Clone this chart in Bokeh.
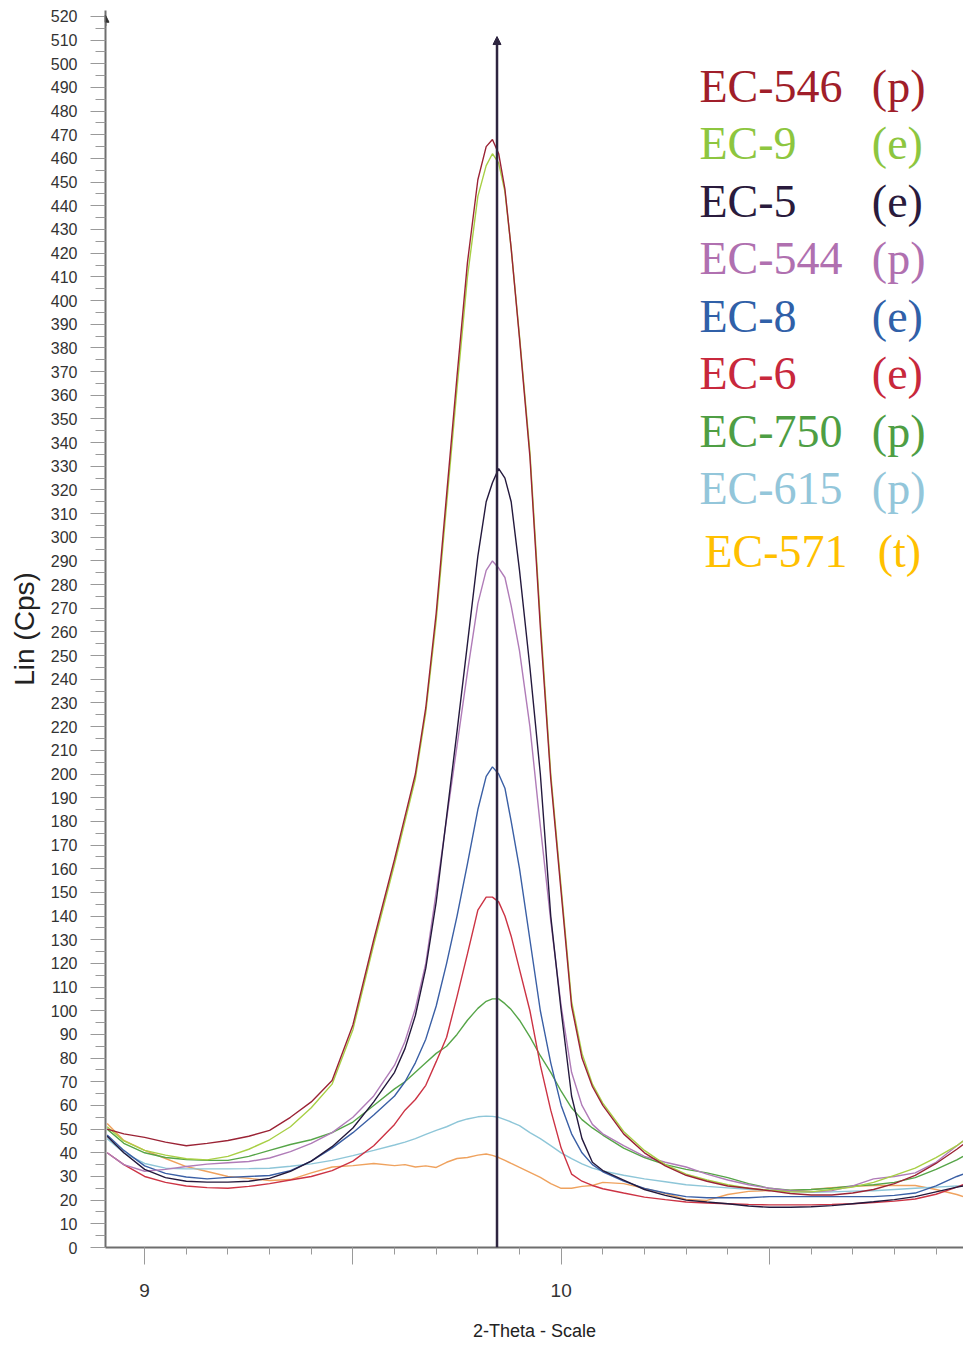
from bokeh.plotting import figure
from bokeh.models import FixedTicker, Range1d, Arrow, NormalHead, ColumnDataSource
from bokeh.core.properties import value
from bokeh.embed import file_html
from bokeh.resources import INLINE

# ---------------- data ----------------
two_theta = [8.91, 8.95, 9.00, 9.05, 9.10, 9.15, 9.20, 9.25, 9.30, 9.35, 9.40, 9.45, 9.50, 9.55, 9.60,
             9.625, 9.65, 9.675, 9.70, 9.725, 9.75, 9.775, 9.80, 9.82, 9.835, 9.85, 9.865, 9.88, 9.90,
             9.925, 9.95, 9.975, 10.00, 10.025, 10.05, 10.075, 10.10, 10.15, 10.20, 10.25, 10.30, 10.35,
             10.40, 10.45, 10.50, 10.55, 10.60, 10.65, 10.70, 10.75, 10.80, 10.85, 10.90, 10.95, 10.965]

ec546 = [50, 48, 46.5, 44.5, 43, 44, 45.2, 47, 49.5, 55, 61.5, 70.5, 94, 130, 164, 182, 200, 228, 268, 318,
         368, 416, 451, 465, 468, 462, 447, 422, 384, 334, 262, 198, 150, 102, 80, 68, 60, 48, 40, 34.5,
         30.5, 28, 26, 25, 24, 22.8, 22.2, 22.2, 23, 24.5, 27, 30.5, 35.5, 41.5, 43.5]
ec9 = [51, 45, 41, 39, 37.5, 37, 38.5, 41.5, 45.5, 51, 59, 69, 92, 128, 162, 180, 198, 226, 265, 314,
       363, 410, 444, 457, 462, 458, 446, 422, 385, 336, 265, 200, 152, 104, 82, 69, 61, 49, 41, 35,
       31, 28.5, 26.5, 25, 24.2, 23.5, 23.5, 24.5, 25.5, 27.5, 30.5, 33.5, 38, 43, 45]
ec5 = [47, 40, 33, 29.5, 28, 27.6, 27.6, 28, 29.2, 32.2, 36.5, 42.6, 50.5, 61.5, 74, 84, 98, 118, 146, 182,
       218, 255, 292, 315, 323, 329, 325, 315, 286, 245, 200, 140, 100, 64, 46, 36, 32.5, 28.5, 24.5, 22,
       20, 19.2, 18.5, 17.5, 17, 17, 17.2, 17.7, 18.5, 19.3, 20.2, 21.5, 23.5, 25.5, 26]
ec544 = [40, 35, 32.2, 33, 34.2, 35.2, 35.8, 36.3, 37.8, 40.5, 44, 48.5, 55, 64, 77, 87, 101, 120, 150, 181,
         212, 243, 272, 286, 290, 287, 283, 271, 252, 220, 178, 138, 102, 74, 60, 52, 48, 43, 38.5, 36,
         34, 31, 28.5, 26.5, 25, 24, 23.5, 24, 26, 29, 30, 31.5, 36, 43, 45]
ec8 = [47.5, 41, 34.5, 31.3, 29.8, 29, 29.6, 30, 30.4, 32.5, 36.5, 42, 48.5, 56, 64, 70, 78, 88, 102, 120,
       140, 162, 185, 199, 203, 200, 194, 180, 160, 130, 100, 78, 60, 48, 40, 35, 32, 28, 25, 23,
       21.5, 21, 21, 21, 21.5, 21.5, 21.5, 21.5, 21.5, 21.5, 22, 23, 26, 30, 31]
ec6 = [40, 35, 30, 27.5, 26, 25.3, 25, 25.8, 27, 28.5, 30, 32.5, 36.5, 43, 52, 58, 62.5, 68.5, 78.5, 88.8,
       106, 124, 142.5, 148, 148, 146, 140, 131.5, 117.5, 100, 77, 58, 42, 31, 28, 26.2, 24.8, 23, 21.3, 20.2,
       19.2, 18.8, 18.5, 18.2, 18, 18, 18, 18.2, 18.5, 19, 19.6, 20.5, 22.5, 25.5, 26.5]
ec750 = [50, 44, 40, 38, 37.2, 36.8, 36.8, 38.5, 41, 43.5, 45.5, 48.5, 53, 60, 67, 70, 74, 78, 82, 85,
         90, 96, 101, 104, 105, 105, 103, 100.5, 96, 89, 81, 74, 66, 59, 54, 50.5, 47.5, 42, 38, 35,
         33, 31.5, 29.5, 27, 25, 24.2, 24.5, 25, 26, 26.5, 27.5, 29.5, 33, 37, 38.5]
ec615 = [46, 40, 35.5, 33.5, 33.2, 33.2, 33.2, 33.3, 33.5, 34.3, 35.3, 36.8, 38.8, 41, 43.3, 44.5, 46, 47.8, 49.5, 51,
         53, 54.3, 55.2, 55.5, 55.4, 55, 54, 53, 51.5, 48.5, 46, 43, 40, 37.5, 35.3, 33.5, 32.3, 30.5, 29, 27.8,
         26.5, 25.8, 25.2, 24.6, 24.2, 23.6, 23.3, 23.5, 23.8, 24, 24.5, 25, 25.5, 26, 26]
ec571 = [52.4, 45.2, 41, 37.6, 34.2, 32.1, 30, 29.2, 28.3, 28.7, 31.5, 34, 34.6, 35.5, 34.6, 35, 34, 34.5, 33.8, 36,
         37.6, 38, 39, 39.5, 38.9, 38, 36.8, 35.5, 33.8, 31.7, 29.6, 27, 25, 25, 25.8, 26.2, 27.5, 27, 25, 22.8,
         20.3, 19.9, 22.4, 23.7, 24.1, 24.1, 24.5, 25.3, 25.8, 26.2, 26.2, 26.2, 24.5, 22.4, 21.5]

sample_names = ["EC-546", "EC-9", "EC-5", "EC-544", "EC-8", "EC-6", "EC-750", "EC-615", "EC-571"]
sample_tags = ["(p)", "(e)", "(e)", "(p)", "(e)", "(e)", "(p)", "(p)", "(t)"]
reference_2theta = 9.846
reference_top = 511.5

y_ticks = list(range(0, 521, 10))
y_minor = list(range(5, 521, 10))
x_ticks = [9, 9.5, 10, 10.5]
x_minor = [round(8.9 + 0.1 * i, 1) for i in range(21)]

# ---------------- styles ----------------
line_colors = ["#9B2335", "#A8CF45", "#24193D", "#B07CB8", "#3A5FA5", "#CC3344", "#56A548", "#8EC6D8", "#EFA25E"]
text_colors = ["#A01E2A", "#8DC63F", "#2A1B3D", "#B070B0", "#3060A8", "#C8283C", "#4E9E44", "#93C6DA", "#FFC000"]

series = dict(zip(sample_names, [ec546, ec9, ec5, ec544, ec8, ec6, ec750, ec615, ec571]))
src = ColumnDataSource(dict(two_theta=two_theta, **series))

X0, X1, Y1 = 8.906, 10.966, 522.5
p = figure(width=963, height=1345, output_backend="svg", toolbar_location=None,
           x_range=Range1d(X0, X1), y_range=Range1d(0, Y1),
           min_border_left=105, min_border_right=0, min_border_top=10, min_border_bottom=98)
p.outline_line_color = None
p.grid.visible = False
p.background_fill_color = "white"
p.border_fill_color = "white"

# draw lines (EC-546 last so it lies on top)
for name, col in reversed(list(zip(sample_names, line_colors))):
    p.line(x="two_theta", y=name, source=src, line_color=col, line_width=1.4)

# reference line with arrow head
ref_col = "#2E2540"
p.add_layout(Arrow(end=NormalHead(size=8, fill_color=ref_col, line_color=ref_col),
                   x_start=reference_2theta, y_start=0, x_end=reference_2theta, y_end=reference_top,
                   line_color=ref_col, line_width=2.5))
# small arrow head on top of the y axis
p.add_layout(Arrow(end=NormalHead(size=7, fill_color="#333333", line_color="#333333"),
                   x_start=X0, y_start=516, x_end=X0, y_end=520.5,
                   line_color="#6E6E6E", line_width=2))

# axes
for ax in (p.xaxis[0], p.yaxis[0]):
    ax.axis_line_color = "#6E6E6E"
    ax.axis_line_width = 2
    ax.major_tick_line_color = "#9A9A9A"
    ax.minor_tick_line_color = "#9A9A9A"
    ax.major_tick_in = 0
    ax.minor_tick_in = 0
    ax.major_label_text_font = "Liberation Sans"
    ax.major_label_text_color = "#333333"
    ax.axis_label_text_font = "Liberation Sans"
    ax.axis_label_text_font_style = "normal"
    ax.axis_label_text_color = "#222222"

p.yaxis.ticker = FixedTicker(ticks=y_ticks, minor_ticks=y_minor)
p.yaxis.major_tick_out = 15
p.yaxis.minor_tick_out = 10
p.yaxis.major_label_text_font_size = "16px"
p.yaxis.major_label_standoff = 13
p.yaxis.axis_label = "Lin (Cps)"
p.yaxis.axis_label_text_font_size = "28px"
p.yaxis.axis_label_standoff = 8

p.xaxis.ticker = FixedTicker(ticks=x_ticks, minor_ticks=x_minor)
p.xaxis.major_label_overrides = {9: "9", 9.5: "", 10: "10", 10.5: ""}
p.xaxis.major_tick_out = 17
p.xaxis.minor_tick_out = 7
p.xaxis.major_label_text_font_size = "19px"
p.xaxis.major_label_standoff = 19
p.xaxis.axis_label = "2-Theta - Scale"
p.xaxis.axis_label_text_font_size = "18px"
p.xaxis.axis_label_standoff = 21

# legend as coloured serif text
row_top = 490.6
row_step = 24.3
rows_y = [row_top - i * row_step for i in range(8)] + [row_top - 8 * row_step - 2.2]
name_x = [10.332] * 8 + [10.344]
tag_x = [10.746] * 8 + [10.760]
leg = ColumnDataSource(dict(nx=name_x, tx=tag_x, y=rows_y, name=sample_names, tag=sample_tags, color=text_colors))
p.text(x="nx", y="y", text="name", source=leg, text_color="color", text_font=value("Liberation Serif"),
       text_font_size="46px", text_baseline="middle", text_align="left")
p.text(x="tx", y="y", text="tag", source=leg, text_color="color", text_font=value("Liberation Serif"),
       text_font_size="46px", text_baseline="middle", text_align="left")

open("out.html", "w").write(file_html(p, INLINE))
